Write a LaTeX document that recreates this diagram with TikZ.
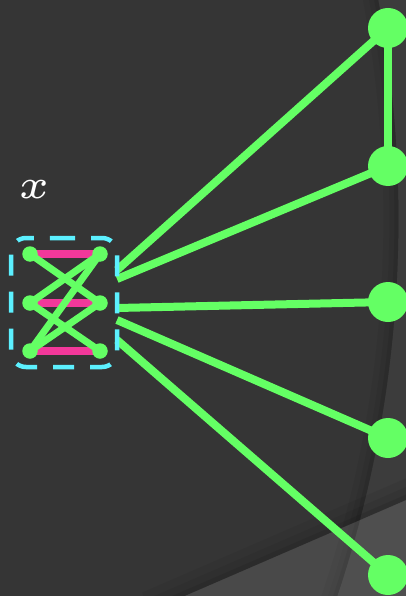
\documentclass[tikz,border=0pt]{standalone}
\definecolor{bgdark}{HTML}{353535}
\definecolor{lime}{HTML}{64FF64}
\definecolor{hotpink}{HTML}{F2389A}
\definecolor{aqua}{HTML}{5CF0FF}
\pgfdeclarelayer{backdrop}
\pgfdeclarelayer{edges}
\pgfsetlayers{backdrop,edges,main}
\tikzset{
  bignode/.style={circle, fill=lime, minimum size=40pt, inner sep=0pt},
  smallnode/.style={circle, fill=lime, minimum size=15.5pt, inner sep=0pt},
  edge/.style={draw=lime, line width=8pt},
  inedge/.style={draw=lime, line width=7pt},
  bar/.style={draw=hotpink, line width=8.5pt},
  frame/.style={draw=aqua, line width=4.5pt, dash pattern=on 21pt off 16pt, rounded corners=15pt},
}
\begin{document}
\begin{tikzpicture}[x=1pt, y=-1pt]
  \useasboundingbox (0,0) rectangle (406,596);
  \begin{pgfonlayer}{backdrop}
    \fill[bgdark] (0,0) rectangle (406,596);
    % wide curved band on the right
    \begin{scope}
      \clip (0,0) rectangle (406,596);
      \fill[white, opacity=0.035, even odd rule] (-800,-700) rectangle (500,1300) (-788.6,219.1) circle (1187);
      \clip (-788.6,219.1) circle (1187);
      \foreach \w/\o in {30/0.05, 18/0.06, 8/0.08}
        \draw[black, line width=\w pt, opacity=\o] (-788.6,219.1) circle (1187);
    \end{scope}
    % lighter wedge at the bottom right
    \begin{scope}
      \clip (0,0) rectangle (406,596);
      \fill[white, opacity=0.1] (150,611) -- (450,481) -- (450,650) -- (150,650) -- cycle;
      \clip (150,611) -- (450,481) -- (450,-10) -- (-10,-10) -- (-10,650) -- cycle;
      \foreach \w/\o in {40/0.05, 24/0.06, 10/0.08}
        \draw[black, line width=\w pt, opacity=\o] (150,611) -- (450,481);
    \end{scope}
  \end{pgfonlayer}

  % label
  \node[text=white, inner sep=0pt, scale=8.3] (lbl) at (34,190) {\tiny$x$};

  % small nodes inside the frame
  \node[smallnode] (tl) at (30,254) {};
  \node[smallnode] (tr) at (100,254) {};
  \node[smallnode] (ml) at (30,303) {};
  \node[smallnode] (mr) at (100,303) {};
  \node[smallnode] (bl) at (30,351) {};
  \node[smallnode] (br) at (100,351) {};

  % output column
  \node[bignode] (o1) at (388,28) {};
  \node[bignode] (o2) at (388,166) {};
  \node[bignode] (o3) at (388,302) {};
  \node[bignode] (o4) at (388,438) {};
  \node[bignode] (o5) at (388,575) {};

  % frame outline and its exit points
  \draw[frame] (39,238) -- (117,238) -- (117,367) -- (11,367) -- (11,238) -- cycle;
  \coordinate (e1) at (117,270);
  \coordinate (e2) at (117,279);
  \coordinate (e3) at (117,308);
  \coordinate (e4) at (117,320);
  \coordinate (e5) at (117,340);

  \begin{pgfonlayer}{edges}
    % rows
    \draw[bar] (tl.center) -- (tr.center);
    \draw[bar] (ml.center) -- (mr.center);
    \draw[bar] (bl.center) -- (br.center);
    % crossings
    \draw[inedge] (tl.center) -- (mr.center);
    \draw[inedge] (tr.center) -- (ml.center);
    \draw[inedge] (tr.center) -- (bl.center);
    \draw[inedge] (ml.center) -- (br.center);
    \draw[inedge] (mr.center) -- (bl.center);
    % fan-out
    \draw[edge] (e1) -- (o1.center);
    \draw[edge] (e2) -- (o2.center);
    \draw[edge] (e3) -- (o3.center);
    \draw[edge] (e4) -- (o4.center);
    \draw[edge] (e5) -- (o5.center);
    \draw[edge] (o1.center) -- (o2.center);
  \end{pgfonlayer}
\end{tikzpicture}
\end{document}
